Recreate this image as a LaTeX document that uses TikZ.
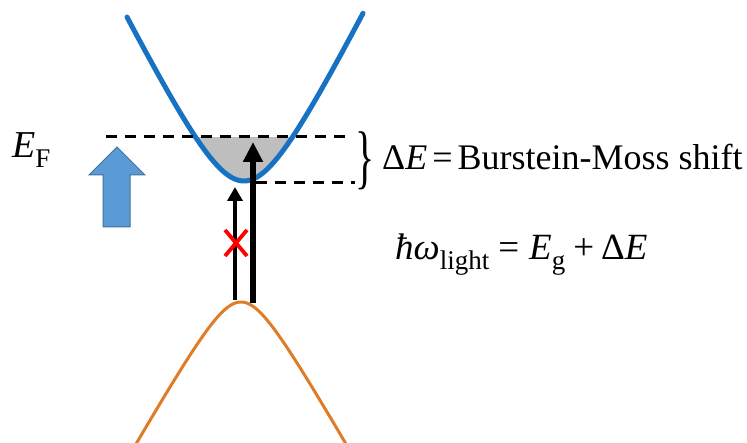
\documentclass[tikz,border=0pt]{standalone}
\usepackage{fontspec}
\setmainfont{Liberation Serif}
\usetikzlibrary{arrows.meta}
\definecolor{bandblue}{RGB}{24,114,196}
\definecolor{bandorange}{RGB}{222,124,40}
\definecolor{arrowfill}{RGB}{91,155,213}
\definecolor{arrowedge}{RGB}{65,113,156}
\definecolor{fillgray}{RGB}{190,190,190}
\newcommand\mysub[1]{\raisebox{-10pt}{\fontsize{27}{27}\selectfont #1}}
\begin{document}
\begin{tikzpicture}[x=1pt,y=-1pt,
  dashline/.style={line width=3pt,dash pattern=on 11pt off 8pt},
  band/.style={line width=5pt,line cap=round},
  lbl/.style={anchor=base west,inner sep=0pt,font=\fontsize{36}{40}\selectfont}]
\useasboundingbox (0,0) rectangle (747,443);
% filled states
\fill[fillgray] plot[domain=-48.5:48.5,samples=60] ({244+\x},{181-85*(sqrt(1+(\x/42.5)^2)-1)}) -- cycle;
% conduction band
\draw[band,color=bandblue] plot[domain=-117:119,samples=120] ({244+\x},{181-85*(sqrt(1+(\x/42.5)^2)-1)});
% valence band
\draw[line width=3pt,color=bandorange] plot[domain=-108:108,samples=120] ({241+\x},{302+49.3*(sqrt(1+(\x/28)^2)-1)});
% dashed levels
\coordinate (f1) at (106,137);
\coordinate (f2) at (347,137);
\coordinate (c1) at (256,183);
\coordinate (c2) at (355,183);
\draw[dashline] (f1) -- (f2);
\draw[dashline] (c1) -- (c2);
% brace
\node[inner sep=0pt,font=\fontsize{38}{40}\selectfont] (br) at (365,161) {\scalebox{1.05}[1.85]{\char`\}}};
% transitions
\coordinate (t1s) at (235,300);
\coordinate (t1e) at (235,187);
\coordinate (t2s) at (253,303);
\coordinate (t2e) at (253,142);
\draw[line width=3.6pt,-{Triangle[length=14pt,width=15pt]}] (t1s) -- (t1e);
\draw[line width=6pt,-{Triangle[length=20pt,width=19pt]}] (t2s) -- (t2e);
% red cross
\coordinate (x1) at (225,230);
\coordinate (x2) at (247,256);
\coordinate (x3) at (247,230);
\coordinate (x4) at (225,256);
\draw[red,line width=3.8pt] (x1) -- (x2) (x3) -- (x4);
% block arrow
\draw[fill=arrowfill,draw=arrowedge,line width=1pt,line join=miter]
  (103,227) -- (103,175) -- (89,175) -- (117,147) -- (145,175) -- (130,175) -- (130,227) -- cycle;
% labels
\node[lbl,font=\fontsize{38}{40}\selectfont] (ef) at (12,158) {\textit{E}\mysub{F}};
\node[lbl] (bm) at (382,170) {Δ\textit{E}\kern5pt=\kern5pt Burstein-Moss shift};
\node[lbl,font=\fontsize{37}{40}\selectfont] (hw) at (395,260) {\textit{ħω}\mysub{light}\kern9pt=\kern10pt\textit{E}\mysub{g}\kern8pt+\kern7ptΔ\textit{E}};
\end{tikzpicture}
\end{document}
